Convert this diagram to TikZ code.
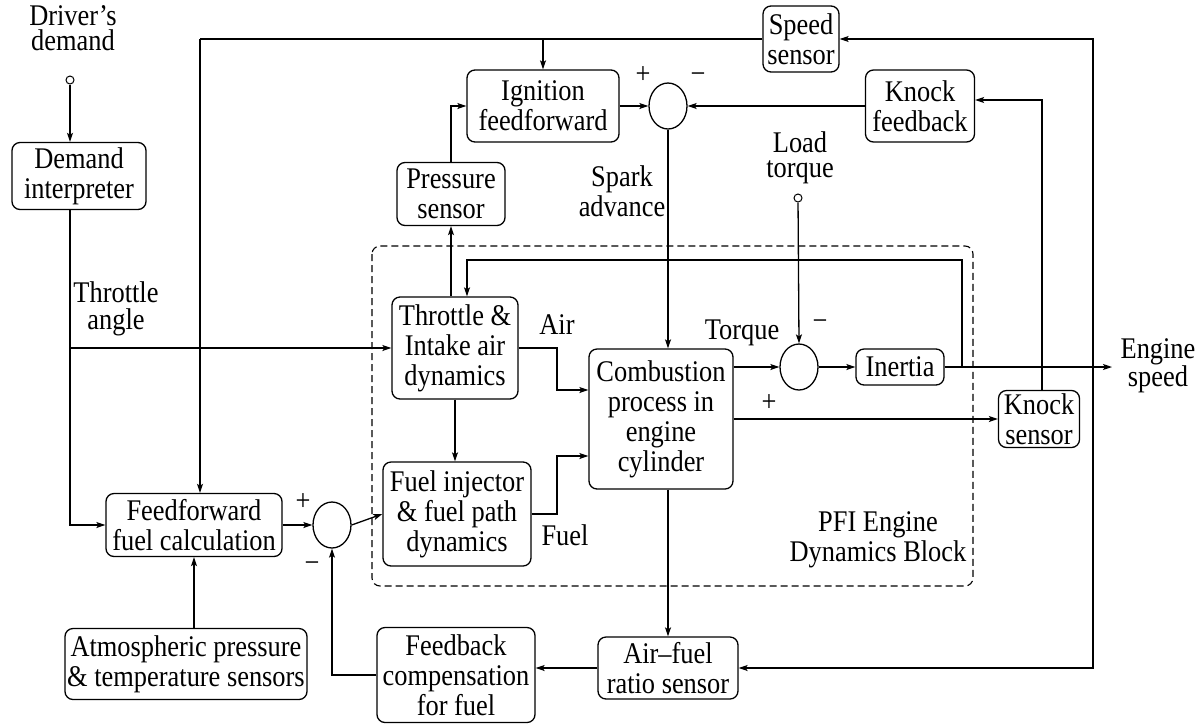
\documentclass[tikz,border=0pt]{standalone}
\usepackage{fontspec}
\setmainfont{Liberation Serif}[FakeStretch=0.88]
\usetikzlibrary{arrows.meta,shapes.geometric,calc}
\newcommand\myfs{\fontsize{30}{30}\selectfont}
\newcommand\mytight{\fontsize{30}{25}\selectfont}
\newcommand\mymid{\fontsize{30}{27}\selectfont}
\begin{document}
\begin{tikzpicture}[x=1pt,y=-1pt,line width=1.3pt,
  >={Stealth[length=9pt,width=6pt,inset=2pt]},
  font=\myfs,
  box/.style={draw,rounded corners=8pt,align=center,inner sep=0pt},
  sumn/.style={draw,ellipse,minimum width=38pt,minimum height=46pt,inner sep=0pt},
  port/.style={draw,circle,minimum size=8pt,inner sep=0pt,line width=1pt},
  lab/.style={align=center,inner sep=0pt},
  sign/.style={inner sep=0pt}]
\useasboundingbox (0,0) rectangle (1204,724);

% PFI dashed block
\draw[dash pattern=on 7pt off 4pt,rounded corners=8pt,line width=1.1pt] (372,246) rectangle (973,586);

% boxes
\node[box,minimum width=134pt,minimum height=67pt] (dem) at (79,176) {Demand\\interpreter};
\node[box,minimum width=176pt,minimum height=63pt] (ffw) at (194,525) {Feedforward\\fuel calculation};
\node[box,minimum width=242pt,minimum height=71pt] (atm) at (186,664) {Atmospheric pressure\\\& temperature sensors};
\node[box,minimum width=158pt,minimum height=95pt] (fbc) at (456,675) {Feedback\\compensation\\for fuel};
\node[box,minimum width=140pt,minimum height=62pt] (afr) at (668,668) {Air--fuel\\ratio sensor};
\node[box,minimum width=148pt,minimum height=104pt] (fij) at (457,514) {Fuel injector\\\& fuel path\\dynamics};
\node[box,minimum width=126pt,minimum height=102pt] (thr) at (455,348) {Throttle \&\\Intake air\\dynamics};
\node[box,minimum width=144pt,minimum height=140pt] (comb) at (661,419) {Combustion\\process in\\engine\\cylinder};
\node[box,minimum width=108pt,minimum height=63pt] (prs) at (451,194) {Pressure\\sensor};
\node[box,minimum width=152pt,minimum height=72pt] (ign) at (543,106) {Ignition\\feedforward};
\node[box,minimum width=76pt,minimum height=66pt] (spd) at (801,39) {Speed\\sensor};
\node[box,minimum width=109pt,minimum height=72pt] (knf) at (920,106) {Knock\\feedback};
\node[box,minimum width=88pt,minimum height=36pt] (ine) at (900,367) {Inertia};
\node[box,minimum width=81pt,minimum height=57pt] (kns) at (1039,419) {Knock\\sensor};

% summing junctions
\node[sumn] (s1) at (668,106) {};
\node[sumn] (s2) at (799,367) {};
\node[sumn] (s3) at (332,525) {};

% input ports
\node[port] (dd) at (70,80) {};
\node[port] (lt) at (798,198) {};

% helper coordinates
\coordinate (cA) at (200,39);
\coordinate (cR) at (1093,367);
\coordinate (cK) at (1042,100);
\coordinate (cI) at (962,367);
\coordinate (cT) at (467,260);
\coordinate (xAir) at (557,390);
\coordinate (xFuel) at (557,456);
\coordinate (airIn) at ($(comb.west)+(0,-29)$);
\coordinate (fuelIn) at ($(comb.west)+(0,37)$);
\coordinate (eng) at (1112,367);

% connectors
\draw[->] (dd) -- (dd |- dem.north);
\draw[->] (dd |- dem.south) |- (ffw.west);
\draw[->] (dd |- thr.west) -- (thr.west);
\draw (spd.west) -- (cA);
\draw[->] (cA) -- (cA |- ffw.north);
\draw[->] (ign.north |- cA) -- (ign.north);
\draw[->] (prs.south |- thr.north) -- (prs.south);
\draw[->] (prs.north) |- (ign.west);
\draw[->] (ign.east) -- (s1.west);
\draw[->] (knf.west) -- (s1.east);
\draw[->] (s1.south) -- (s1.south |- comb.north);
\draw[->] (kns.north -| cK) -- (cK) -- (cK -| knf.east);
\draw[->] (thr.east) -| (xAir) -- (airIn);
\draw[->] (fij.east) -| (xFuel) -- (fuelIn);
\draw[->] (thr.south) -- (thr.south |- fij.north);
\draw[->] (ffw.east) -- (s3.west);
\draw[->] (s3.east) -- (fij.west);
\draw[->] (ffw.south |- atm.north) -- (ffw.south);
\draw[->] (comb.south -| afr.north) -- (afr.north);
\draw[->] (afr.west) -- (afr.west -| fbc.east);
\draw[->] (fbc.west) -| (s3.south);
\draw[->] (comb.east |- s2.west) -- (s2.west);
\draw[->] (lt) -- (s2.north);
\draw[->] (s2.east) -- (ine.west);
\draw[->] (comb.east) -- (kns.west);
\draw[->] (ine.east) -- (eng);
\draw[->] (cI) -- (cI |- cT) -- (cT) -- (cT |- thr.north);
\draw[->] (cR) |- (spd.east);
\draw[->] (cR) |- (afr.east);

% labels
\node[lab,font=\mytight] (tDD) at (73,28) {Driver’s\\demand};
\node[lab,font=\mymid] (tTA) at (116,309) {Throttle\\angle};
\node[lab] (tSA) at (622,191) {Spark\\advance};
\node[lab,font=\mytight] (tLT) at (800,158) {Load\\torque};
\node[lab] (tAir) at (557,325) {Air};
\node[lab] (tFuel) at (565,535) {Fuel};
\node[lab] (tTq) at (742,333) {Torque};
\node[lab,font=\mymid] (tES) at (1158,366) {Engine\\speed};
\node[lab] (tPFI) at (878,540) {PFI Engine\\Dynamics Block};

% signs
\node[sign] (p1) at (643,75) {+};
\node[sign] (m1) at (698,78) {−};
\node[sign] (m2) at (820,325) {−};
\node[sign] (p2) at (769,403) {+};
\node[sign] (p3) at (303,502) {+};
\node[sign] (m3) at (312,567) {−};
\end{tikzpicture}
\end{document}
